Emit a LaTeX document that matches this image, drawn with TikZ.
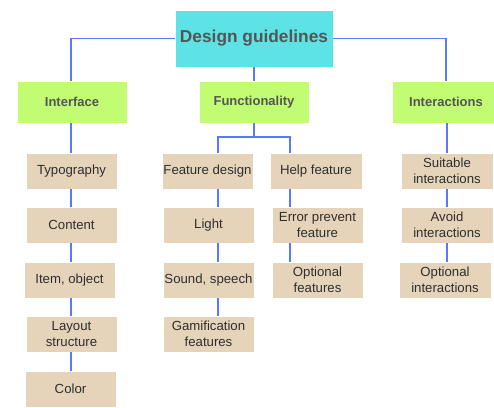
\documentclass[tikz,border=0pt]{standalone}
\usepackage{fontspec}
\setmainfont{Liberation Sans}
\definecolor{titlefill}{HTML}{5DE2E6}
\definecolor{headfill}{HTML}{C2FC72}
\definecolor{itemfill}{HTML}{E6D4BA}
\definecolor{linkblue}{HTML}{5A78FF}
\definecolor{headtext}{HTML}{555555}
\definecolor{itemtext}{HTML}{2E2E2E}
\begin{document}
\begin{tikzpicture}[x=1pt,y=-1pt,
  base/.style={draw=white, line width=0.8pt, inner sep=1pt, align=center},
  titlebox/.style={base, fill=titlefill, minimum width=158pt, minimum height=57pt,
    font=\fontsize{17.3}{20}\selectfont\bfseries, text=headtext},
  headbox/.style={base, fill=headfill, minimum width=110pt, minimum height=42pt,
    font=\fontsize{13}{15}\selectfont\bfseries, text=headtext},
  itembox/.style={base, fill=itemfill, minimum width=91pt, minimum height=36pt,
    font=\fontsize{13.2}{15.5}\selectfont, text=itemtext},
  link/.style={draw=linkblue, line width=1.3pt}]
\useasboundingbox (0,0) rectangle (494,407);

% root
\node[titlebox] (root) at (254,38.5) {Design guidelines};

% category heads
\node[headbox] (iface) at (72,102) {Interface};
\node[headbox] (func) at (254,102) {Functionality};
\node[headbox, minimum width=102pt] (inter) at (443,102) {\hspace*{6pt}Interactions};

% interface column
\node[itembox] (typo) at (71.5,171) {Typography};
\node[itembox] (cont) at (71.5,225) {Content};
\node[itembox] (item) at (69.5,280) {Item, object};
\node[itembox] (layout) at (71.5,334) {Layout\\structure};
\node[itembox] (color) at (70.5,389) {Color};

% functionality columns
\node[itembox] (feat) at (207.5,171) {Feature design};
\node[itembox] (light) at (208.5,225) {Light};
\node[itembox] (sound) at (208.5,280) {Sound, speech};
\node[itembox] (gami) at (208.5,334) {Gamification\\features};

\node[itembox, minimum width=92pt] (help) at (316,171) {Help feature};
\node[itembox] (err) at (317.5,225) {Error prevent\\feature};
\node[itembox] (optf) at (317.5,280) {Optional\\features};

% interactions column
\node[itembox, minimum width=92pt] (suit) at (447,171) {Suitable\\interactions};
\node[itembox, minimum width=92pt] (avoid) at (447,225) {Avoid\\interactions};
\node[itembox, minimum width=92pt] (opti) at (445,280) {Optional\\interactions};

% connectors from the root
\draw[link] (root.west) -- (71,38.5) -- (iface.north -| 71,0);
\draw[link] (root.east) -- (446,38.5) -- (inter.north -| 446,0);
\draw[link] (root.south) -- (func.north);

% interface chain
\draw[link] (iface.south -| 71,0) -- (typo.north -| 71,0);
\draw[link] (typo.south -| 71,0) -- (cont.north -| 71,0);
\draw[link] (cont.south -| 71,0) -- (item.north -| 71,0);
\draw[link] (item.south -| 71,0) -- (layout.north -| 71,0);
\draw[link] (layout.south -| 71,0) -- (color.north -| 71,0);

% functionality split
\coordinate (fsplit) at (254,137);
\draw[link] (func.south) -- (fsplit);
\draw[link] (fsplit) -- (218,137) -- (feat.north -| 218,0);
\draw[link] (fsplit) -- (290,137) -- (help.north -| 290,0);
\draw[link] (feat.south -| 218,0) -- (light.north -| 218,0);
\draw[link] (light.south -| 218,0) -- (sound.north -| 218,0);
\draw[link] (sound.south -| 218,0) -- (gami.north -| 218,0);
\draw[link] (help.south -| 290,0) -- (err.north -| 290,0);
\draw[link] (err.south -| 290,0) -- (optf.north -| 290,0);

% interactions chain
\draw[link] (inter.south -| 447,0) -- (suit.north -| 447,0);
\draw[link] (suit.south -| 447,0) -- (avoid.north -| 447,0);
\draw[link] (avoid.south -| 447,0) -- (opti.north -| 447,0);
\end{tikzpicture}
\end{document}
